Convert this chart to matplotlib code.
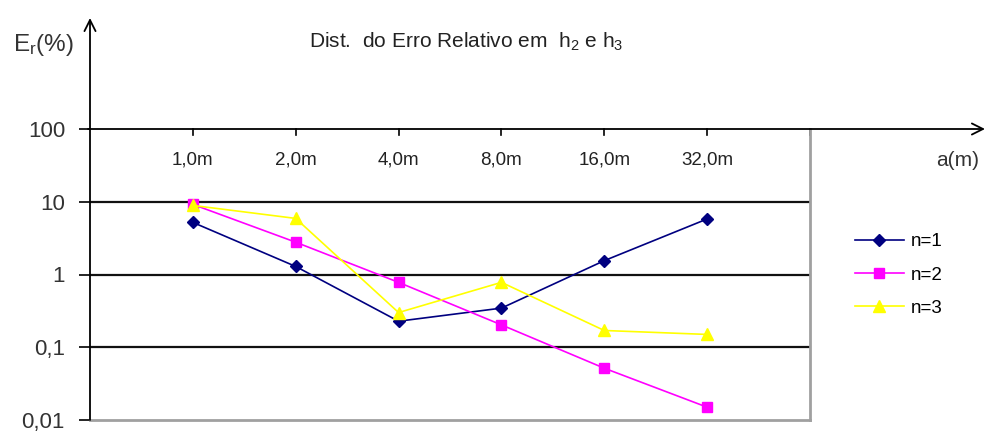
import matplotlib
matplotlib.use("Agg")
import matplotlib.pyplot as plt
from matplotlib.transforms import blended_transform_factory

plt.rcParams["font.family"] = ["Liberation Sans", "DejaVu Sans"]
plt.rcParams["mathtext.fontset"] = "custom"
plt.rcParams["mathtext.rm"] = "Liberation Sans"
plt.rcParams["mathtext.it"] = "Liberation Sans"

# spacing between electrodes
categories = ["1,0m", "2,0m", "4,0m", "8,0m", "16,0m", "32,0m"]

# relative error (%) per layer count
err_n1 = [5.2, 1.29, 0.228, 0.345, 1.55, 5.8]
err_n2 = [9.2, 2.78, 0.78, 0.203, 0.0515, 0.015]
err_n3 = [8.9, 5.9, 0.30, 0.78, 0.17, 0.15]

y_ticks = [100, 10, 1, 0.1, 0.01]
y_tick_labels = ["100", "10", "1", "0,1", "0,01"]

W, H = 993, 432
fig = plt.figure(figsize=(W / 100, H / 100), dpi=100)
left, right, top, bottom = 90, 810, 129, 420
ax = fig.add_axes([left / W, 1 - bottom / H, (right - left) / W, (bottom - top) / H])

xs = list(range(1, len(categories) + 1))
ax.plot(xs, err_n1, color="#000080", lw=1.2, marker="D", ms=6, label="n=1")
ax.plot(xs, err_n2, color="#FF00FF", lw=1.2, marker="s", ms=7, label="n=2")
ax.plot(xs, err_n3, color="#FFFF00", lw=1.2, marker="^", ms=8, label="n=3")

ax.set_yscale("log")
ax.set_ylim(0.01, 100)
ax.set_xlim(0, len(categories) + 1)

for v in y_ticks[1:-1]:
    ax.axhline(v, color="#111111", lw=1.6, zorder=0)

for s in ["left", "top"]:
    ax.spines[s].set_visible(False)
for s in ["right", "bottom"]:
    ax.spines[s].set_color("#a0a0a0")
    ax.spines[s].set_linewidth(2)

ax.set_yticks(y_ticks)
ax.set_yticklabels(y_tick_labels)
ax.minorticks_off()
ax.tick_params(axis="y", direction="out", length=8, width=1.2, color="black",
               labelsize=16, pad=10, labelcolor="#333333")
ax.set_xticks([])

# vertical axis with arrow up
ax.annotate("", xy=(0, 1 + (top - 18) / (bottom - top)), xytext=(0, 0),
            xycoords="axes fraction", textcoords="axes fraction",
            arrowprops=dict(arrowstyle="->,head_length=0.8,head_width=0.4", color="black", lw=1.3,
                            shrinkA=0, shrinkB=0))
# horizontal axis with arrow right
ax.annotate("", xy=(1 + (985 - right) / (right - left), 1), xytext=(-2 / (right - left), 1),
            xycoords="axes fraction", textcoords="axes fraction",
            arrowprops=dict(arrowstyle="->,head_length=0.8,head_width=0.4", color="black", lw=1.3,
                            shrinkA=0, shrinkB=0))

# category ticks and labels under the top axis
trans = blended_transform_factory(ax.transData, ax.transAxes)
for x, lab in zip(xs, categories):
    ax.plot([x, x], [1, 1 - 6 / (bottom - top)], color="black", lw=1.2, transform=trans, clip_on=False)
    ax.text(x, 1 - 31 / (bottom - top), lab, transform=trans, ha="center", va="center",
            fontsize=13.5, color="#222222")
ax.plot([7, 7], [1, 1 - 6 / (bottom - top)], color="black", lw=1.2, transform=trans, clip_on=False)

fig.text(958 / W, 1 - 160 / H, "a(m)", ha="center", va="center", fontsize=15, color="#333333")
fig.text(43 / W, 1 - 45 / H, "E$_\\mathregular{r}$(%)", ha="center", va="center",
         fontsize=17.5, color="#333333")
fig.text(466 / W, 1 - 42 / H, "Dist.  do Erro Relativo em  h$_\\mathregular{2}$ e h$_\\mathregular{3}$",
         ha="center", va="center", fontsize=15, color="#222222")

ax.legend(loc="center left", bbox_to_anchor=(838 / W, 1 - 275 / H), bbox_transform=fig.transFigure,
          frameon=False, fontsize=13.5, handlelength=2.6, labelspacing=0.85, handletextpad=0.4)

fig.savefig("out.png", dpi=100)
